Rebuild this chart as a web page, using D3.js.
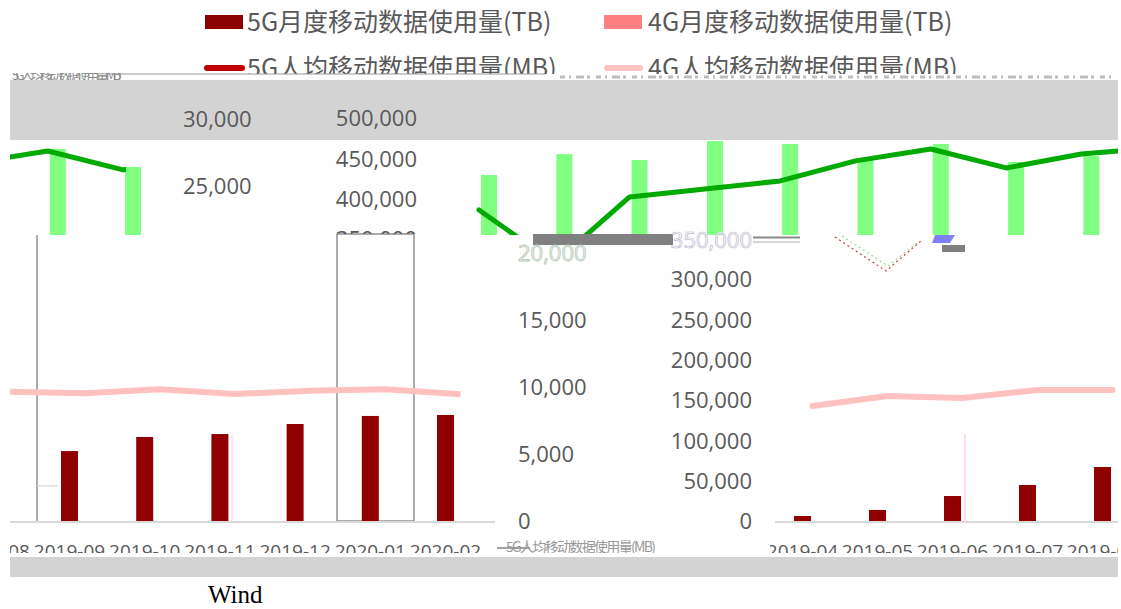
<!DOCTYPE html>
<html>
<head>
<meta charset="utf-8">
<script src="https://cdn.jsdelivr.net/npm/d3@7"></script>
<style>
  body { margin: 0; background: #fff; }
  svg { display: block; }
</style>
</head>
<body>
<div id="chart"></div>
<script>
// ---- data ----
var legendBarNames = ["5G月度移动数据使用量(TB)", "4G月度移动数据使用量(TB)"];
var legendLineNames = ["5G人均移动数据使用量(MB)", "4G人均移动数据使用量(MB)"];

// green strip (a shifted copy of another chart), arbitrary 0-100 units
var greenBars = [84.1, 93.6, 90.9, 99.5, 98.2, 90.9, 98.2, 90.0, 92.7, 95.0];
var greenLine = [68.2, 44.1, 74.1, 77.7, 81.4, 90.5, 95.9, 87.3, 93.6, 96.4];

// lower left chart
var leftMonths = ["2019-08", "2019-09", "2019-10", "2019-11", "2019-12", "2020-01", "2020-02"];
var left5G = [null, 5220, 6270, 6490, 7240, 7840, 7910];
var left4GPer = [9650, 9530, 9830, 9480, 9720, 9830, 9460];

// lower right chart
var rightMonths = ["2019-04", "2019-05", "2019-06", "2019-07", "2019-08"];
var right5G = [6200, 13700, 31000, 44700, 67000];
var right4GPer = [142700, 155100, 152600, 162600, 162600];

var leftTicks = [0, 5000, 10000, 15000, 20000, 25000, 30000];
var rightTicks = [0, 50000, 100000, 150000, 200000, 250000, 300000, 350000, 400000, 450000, 500000];

// ---- setup ----
var width = 1121, height = 609;
var numFont = "'Open Sans', 'Noto Sans', sans-serif";
var cjkFont = "'Noto Sans CJK SC', 'Noto Sans', sans-serif";
var txtColor = "#595959";
var fmt = d3.format(",");

var svg = d3.select("#chart").append("svg")
    .attr("width", width)
    .attr("height", height)
    .style("background", "#fff");
var defs = svg.append("defs");

function clip(id, x, y, w, h) {
  defs.append("clipPath").attr("id", id)
    .append("rect").attr("x", x).attr("y", y).attr("width", w).attr("height", h);
  return "url(#" + id + ")";
}

// gray bands
svg.append("rect").attr("x", 10).attr("y", 80).attr("width", 1108).attr("height", 60).attr("fill", "#d3d3d3");
svg.append("rect").attr("x", 10).attr("y", 557).attr("width", 1108).attr("height", 20).attr("fill", "#d3d3d3");

// ---- legend ----
var legX = [247, 648];
var leg1 = svg.append("g");
leg1.selectAll("rect").data(legendBarNames).enter().append("rect")
  .attr("x", function(d, i) { return i ? 604 : 205; })
  .attr("y", 15).attr("width", 38).attr("height", 14)
  .attr("fill", function(d, i) { return i ? "#ff8080" : "#8b0000"; });
leg1.selectAll("text").data(legendBarNames).enter().append("text")
  .attr("x", function(d, i) { return legX[i]; })
  .attr("y", 22).attr("dy", "0.35em")
  .style("font-family", cjkFont).style("font-size", "25px").attr("fill", txtColor)
  .text(function(d) { return d; });

var leg2 = svg.append("g").attr("clip-path", clip("legclip", 0, 0, width, 74));
leg2.selectAll("line").data(legendLineNames).enter().append("line")
  .attr("x1", function(d, i) { return i ? 607 : 207; })
  .attr("x2", function(d, i) { return i ? 640 : 242; })
  .attr("y1", 68).attr("y2", 68)
  .attr("stroke", function(d, i) { return i ? "#ffc0c0" : "#c00000"; })
  .attr("stroke-width", 6).attr("stroke-linecap", "round");
leg2.selectAll("text").data(legendLineNames).enter().append("text")
  .attr("x", function(d, i) { return legX[i]; })
  .attr("y", 68).attr("dy", "0.35em")
  .style("font-family", cjkFont).style("font-size", "25px").attr("fill", txtColor)
  .text(function(d) { return d; });

// glitch strip under the legend
var strip = svg.append("g").attr("clip-path", clip("stripclip", 10, 73, 1108, 7));
strip.append("line").attr("x1", 107).attr("x2", 545).attr("y1", 74).attr("y2", 74)
  .attr("stroke", "#999").attr("stroke-width", 1);
strip.append("text").attr("x", 12).attr("y", 80)
  .style("font-family", cjkFont).style("font-size", "13px").attr("fill", "#8a8a8a")
  .attr("textLength", 110)
  .text(legendLineNames[0]);
strip.append("line").attr("x1", 560).attr("x2", 1116).attr("y1", 77).attr("y2", 77)
  .attr("stroke", "#bdbdbd").attr("stroke-width", 3).attr("stroke-dasharray", "5,4,2,5,8,3,3,6");

// ---- green strip ----
var gx = d3.scaleBand().domain(d3.range(greenBars.length)).range([451.35, 451.35 + 75.3 * greenBars.length]);
var gy = d3.scaleLinear().domain([0, 100]).range([360, 140]);
var greenPath = d3.line()
  .x(function(d, i) { return gx(i) + gx.bandwidth() / 2 - 10; })
  .y(function(d) { return gy(d); });

function drawGreenBars(g) {
  g.selectAll("rect").data(greenBars).enter().append("rect")
    .attr("x", function(d, i) { return gx(i) + gx.bandwidth() / 2 - 8; })
    .attr("y", function(d) { return gy(d); })
    .attr("width", 16)
    .attr("height", function(d) { return gy(0) - gy(d); })
    .attr("fill", "#80ff80");
}
function drawGreenLine(g) {
  g.append("path").datum(greenLine)
    .attr("d", greenPath)
    .attr("fill", "none").attr("stroke", "#00aa00").attr("stroke-width", 5)
    .attr("stroke-linejoin", "round").attr("stroke-linecap", "round");
}

var greenRight = svg.append("g").attr("clip-path", clip("gright", 474, 140, 644, 95));
drawGreenBars(greenRight);
drawGreenLine(greenRight);

var greenLeftBars = svg.append("g").attr("clip-path", clip("gleftb", 10, 140, 135, 95))
  .append("g").attr("transform", "translate(-883,5)");
drawGreenBars(greenLeftBars);
var greenLeftLine = svg.append("g").attr("clip-path", clip("gleftl", 10, 140, 116, 95))
  .append("g").attr("transform", "translate(-883,2)");
drawGreenLine(greenLeftLine);

// ---- scales for the lower charts ----
var yL = d3.scaleLinear().domain([0, 20000]).range([521, 253]);
var yR = d3.scaleLinear().domain([0, 350000]).range([521, 239]);
var xL = d3.scaleBand().domain(leftMonths).range([-43.3, 483.1]);
var xR = d3.scaleBand().domain(rightMonths).range([765, 1140]);

// frame lines of the left chart
svg.append("line").attr("x1", 37).attr("x2", 37).attr("y1", 235).attr("y2", 521)
  .attr("stroke", "#808080").attr("stroke-width", 1.3);
svg.append("line").attr("x1", 37).attr("x2", 58).attr("y1", 486).attr("y2", 486)
  .attr("stroke", "#d9d9d9").attr("stroke-width", 1.3);
svg.append("rect").attr("x", 337).attr("y", 234).attr("width", 77).attr("height", 287)
  .attr("fill", "none").attr("stroke", "#808080").attr("stroke-width", 1.3);
svg.append("line").attr("x1", 232).attr("x2", 232).attr("y1", 434).attr("y2", 521)
  .attr("stroke", "#ffc8ff").attr("stroke-width", 1);
svg.append("line").attr("x1", 965).attr("x2", 965).attr("y1", 434).attr("y2", 521)
  .attr("stroke", "#ffb0ff").attr("stroke-width", 1);

// ---- lower left chart ----
var left = svg.append("g").attr("clip-path", clip("leftclip", 10, 235, 486, 290));
left.append("line").attr("x1", 10).attr("x2", 495).attr("y1", yL(0) + 1).attr("y2", yL(0) + 1)
  .attr("stroke", "#d9d9d9").attr("stroke-width", 2);
left.selectAll("rect").data(leftMonths.filter(function(d, i) { return left5G[i] != null; }))
  .enter().append("rect")
  .attr("x", function(d) { return xL(d) + xL.bandwidth() / 2 - 8.5; })
  .attr("y", function(d) { return yL(left5G[leftMonths.indexOf(d)]); })
  .attr("width", 17)
  .attr("height", function(d) { return yL(0) - yL(left5G[leftMonths.indexOf(d)]); })
  .attr("fill", "#900000");
left.append("path").datum(left4GPer)
  .attr("d", d3.line()
    .x(function(d, i) { return xL(leftMonths[i]) + xL.bandwidth() / 2 + 15; })
    .y(function(d) { return yL(d); }))
  .attr("fill", "none").attr("stroke", "#ffc0c0").attr("stroke-width", 6)
  .attr("stroke-linejoin", "round");

// ---- lower right chart ----
var right = svg.append("g").attr("clip-path", clip("rightclip", 700, 235, 418, 290));
right.append("line").attr("x1", 775).attr("x2", 1118).attr("y1", yR(0) + 1).attr("y2", yR(0) + 1)
  .attr("stroke", "#d9d9d9").attr("stroke-width", 2);
right.selectAll("rect").data(rightMonths).enter().append("rect")
  .attr("x", function(d) { return xR(d) + xR.bandwidth() / 2 - 8.5; })
  .attr("y", function(d, i) { return yR(right5G[i]); })
  .attr("width", 17)
  .attr("height", function(d, i) { return yR(0) - yR(right5G[i]); })
  .attr("fill", "#900000");
right.append("path").datum(right4GPer)
  .attr("d", d3.line()
    .x(function(d, i) { return xR(rightMonths[i]) + xR.bandwidth() / 2 + 10; })
    .y(function(d) { return yR(d); }))
  .attr("fill", "none").attr("stroke", "#ffc0c0").attr("stroke-width", 6)
  .attr("stroke-linejoin", "round").attr("stroke-linecap", "round");

// ---- glitch pieces near the top of the lower charts ----
svg.append("rect").attr("x", 533).attr("y", 234).attr("width", 140).attr("height", 11).attr("fill", "#808080");
svg.append("line").attr("x1", 753).attr("x2", 800).attr("y1", 237.5).attr("y2", 237.5).attr("stroke", "#8a8a8a").attr("stroke-width", 2);
svg.append("line").attr("x1", 753).attr("x2", 800).attr("y1", 242).attr("y2", 242).attr("stroke", "#aaa").attr("stroke-width", 1);
svg.append("polyline").attr("points", "835,237 886,271 922,240")
  .attr("fill", "none").attr("stroke", "#d04040").attr("stroke-width", 1.2).attr("stroke-dasharray", "2,3");
svg.append("polyline").attr("points", "842,236 888,266 917,243")
  .attr("fill", "none").attr("stroke", "#90e090").attr("stroke-width", 1.2).attr("stroke-dasharray", "2,3");
svg.append("polygon").attr("points", "935,235 955,235 950,243 932,243").attr("fill", "#8080ff");
svg.append("rect").attr("x", 942).attr("y", 245).attr("width", 23).attr("height", 7).attr("fill", "#808080");

// ---- number axes ----
function numAxes(g, maxL, maxR) {
  var aL = g.append("g").attr("transform", "translate(518,0)")
    .call(d3.axisRight(yL).tickValues(leftTicks.filter(function(v) { return v <= maxL; }))
      .tickFormat(fmt).tickSize(0).tickPadding(0));
  var aR = g.append("g").attr("transform", "translate(752,0)")
    .call(d3.axisLeft(yR).tickValues(rightTicks.filter(function(v) { return v <= maxR; }))
      .tickFormat(fmt).tickSize(0).tickPadding(0));
  [aL, aR].forEach(function(a) {
    a.select(".domain").remove();
    a.selectAll("text").attr("dy", "0.35em")
      .style("font-family", numFont).style("font-size", "22px").attr("fill", txtColor);
  });
}
// upper shifted copy
var upper = svg.append("g").attr("clip-path", clip("upclip", 10, 80, 1108, 154))
  .append("g").attr("transform", "translate(-335,0)");
numAxes(upper, 30000, 500000);
// lower copy
numAxes(svg.append("g"), 15000, 300000);
// ghosted labels at the glitch line
svg.append("text").attr("x", 518).attr("y", yL(20000)).attr("dy", "0.35em")
  .style("font-family", numFont).style("font-size", "22px")
  .attr("fill", "#eef6ee").attr("stroke", "#b8c8b8").attr("stroke-width", 0.8)
  .text(fmt(leftTicks[4]));
svg.append("text").attr("x", 752).attr("y", yR(350000) + 1).attr("dy", "0.35em")
  .attr("text-anchor", "end")
  .style("font-family", numFont).style("font-size", "22px")
  .attr("fill", "#fff").attr("stroke", "#c0b8d0").attr("stroke-width", 0.7)
  .text(fmt(rightTicks[7]));

// ---- month labels (cut at the bottom) ----
function monthAxis(g, scale) {
  var a = g.append("g").attr("transform", "translate(0,551)")
    .call(d3.axisBottom(scale).tickSize(0).tickPadding(0));
  a.select(".domain").remove();
  a.selectAll("text").attr("y", 0).attr("dy", "0.35em")
    .style("font-family", numFont).style("font-size", "19px").attr("fill", txtColor);
}
monthAxis(svg.append("g").attr("clip-path", clip("mlclip", 10, 535, 487, 18)), xL);
monthAxis(svg.append("g").attr("clip-path", clip("mrclip", 770, 535, 348, 18)), xR);
svg.append("line").attr("x1", 497).attr("x2", 530).attr("y1", 548).attr("y2", 548).attr("stroke", "#808080").attr("stroke-width", 1.5);
svg.append("g").attr("clip-path", clip("midclip", 505, 540, 160, 13))
  .append("text").attr("x", 506).attr("y", 552)
  .style("font-family", cjkFont).style("font-size", "14px").attr("fill", "#999")
  .attr("textLength", 150)
  .text(legendLineNames[0]);

// source
svg.append("text").attr("x", 208).attr("y", 603)
  .style("font-family", "'Liberation Serif', 'DejaVu Serif', serif").style("font-size", "25px")
  .attr("fill", "#000")
  .text("Wind");
</script>
</body>
</html>
